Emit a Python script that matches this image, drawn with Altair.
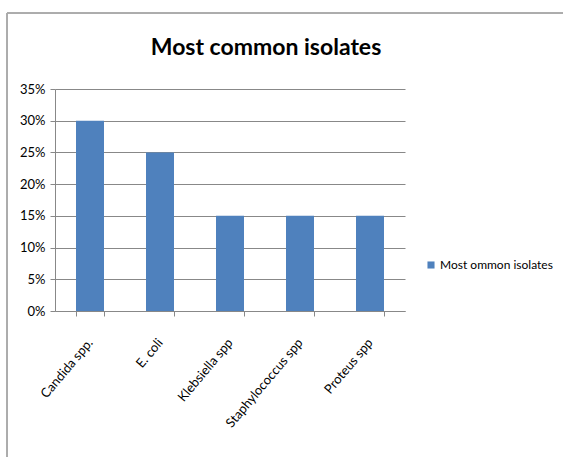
import altair as alt
import pandas as pd

categories = ["Candida spp.", "E. coli", "Klebsiella spp", "Staphylococcus spp", "Proteus spp"]
values = [0.30, 0.25, 0.15, 0.15, 0.15]
series_name = "Most ommon isolates"
y_ticks = [0, 0.05, 0.10, 0.15, 0.20, 0.25, 0.30, 0.35]

df = pd.DataFrame({"isolate": categories, "share": values, "series": [series_name] * len(categories)})

FONT = "Lato, sans-serif"

bars = alt.Chart(df).mark_bar(color="#4F81BD").encode(
    x=alt.X("isolate:N", sort=categories, title=None,
            scale=alt.Scale(paddingInner=0.6, paddingOuter=0.3),
            axis=alt.Axis(labelAngle=-50, labelAlign="right", labelBaseline="middle",
                          tickBand="extent", labelPadding=24, labelFontSize=13,
                          labelFont=FONT, labelColor="#000", domainColor="#888",
                          tickColor="#888", tickSize=5)),
    y=alt.Y("share:Q", title=None,
            scale=alt.Scale(domain=[0, 0.35], nice=False),
            axis=alt.Axis(values=y_ticks, format=".0%", grid=True, gridColor="#888",
                          labelFontSize=13, labelFont=FONT, labelColor="#000",
                          domainColor="#888", tickColor="#888", tickSize=5, labelPadding=5)),
    fill=alt.Fill("series:N", scale=alt.Scale(range=["#4F81BD"]),
                  legend=alt.Legend(title=None, orient="none", legendX=370, legendY=170,
                                    symbolType="square", symbolSize=50, symbolStrokeWidth=0,
                                    labelFontSize=12, labelFont=FONT, labelColor="#000",
                                    labelOffset=3)),
)

border_left = alt.Chart(df).mark_rule(color="#aaa", strokeWidth=1).encode(
    x=alt.value(-48), y=alt.value(-76), y2=alt.value(400)
)
border_top = alt.Chart(df).mark_rule(color="#aaa", strokeWidth=1).encode(
    x=alt.value(-48), x2=alt.value(520), y=alt.value(-76)
)

chart = alt.layer(bars, border_left, border_top).properties(
    width=350, height=222,
    autosize=alt.AutoSizeParams(type="none"),
    padding={"left": 55, "top": 89, "right": 158, "bottom": 146},
    title=alt.TitleParams("Most common isolates", font=FONT, fontSize=23, fontWeight="bold",
                          color="#000", anchor="middle", offset=-47, dx=36),
).configure_view(stroke=None)

chart.save("out.html", embed_options={"renderer": "svg", "actions": False})
